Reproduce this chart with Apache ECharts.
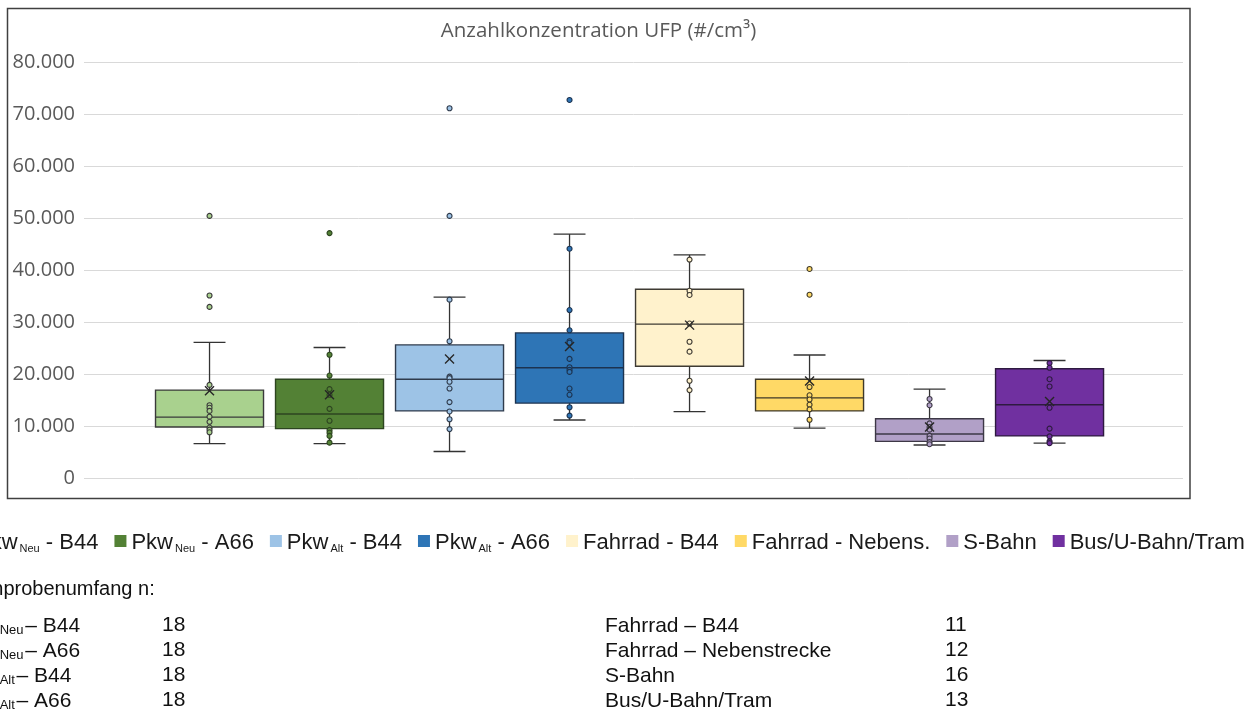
<!DOCTYPE html>
<html>
<head>
<meta charset="utf-8">
<script src="https://cdn.jsdelivr.net/npm/echarts@6/dist/echarts.min.js"></script>
<style>
  html, body { margin: 0; padding: 0; background: #fff; }
  #chart { width: 1259px; height: 718px; }
</style>
</head>
<body>
<div id="chart"></div>
<script>
// Groups (the part after "_" is written as a subscript)
const categories = ['Pkw_Neu - B44', 'Pkw_Neu - A66', 'Pkw_Alt - B44', 'Pkw_Alt - A66',
  'Fahrrad - B44', 'Fahrrad - Nebens.', 'S-Bahn', 'Bus/U-Bahn/Tram'];

// Box statistics per group in #/cm³
const boxMin    = [6600, 6600, 5100, 11150, 12750, 9600, 6350, 6700];
const boxQ1     = [9800, 9500, 12900, 14400, 21500, 12900, 7050, 8100];
const boxMedian = [11700, 12300, 19000, 21200, 29600, 15400, 8450, 14100];
const boxQ3     = [16900, 19000, 25600, 27900, 36300, 19000, 11400, 21000];
const boxMax    = [26100, 25100, 34800, 46900, 42900, 23650, 17100, 22600];
const means     = [16800, 16000, 22900, 25300, 29400, 18650, 9800, 14700];

// Individual measurements shown as dots (incl. outliers)
const points1 = [50400, 35100, 32900, 17900, 14000, 13500, 12900, 11800, 10800, 9700, 9300, 8800];
const points2 = [47100, 23700, 19700, 17100, 16000, 13300, 11000, 9200, 8700, 8100, 6800];
const points3 = [71100, 50400, 34300, 26300, 19500, 19200, 18500, 17200, 14600, 12800, 11300, 9400];
const points4 = [72700, 44100, 32300, 28400, 26300, 26000, 22900, 21300, 20800, 20400, 17200, 16000, 13600, 12000];
const points5 = [42000, 36000, 35200, 29700, 26200, 24300, 18700, 16900];
const points6 = [40200, 35250, 17500, 15900, 15100, 14100, 13200, 11200];
const points7 = [15200, 14000, 10500, 9800, 9300, 8100, 7600, 6900, 6500];
const points8 = [22100, 21200, 19000, 17600, 13500, 9500, 8000, 7050, 6700];
const points = [points1, points2, points3, points4, points5, points6, points7, points8];

// Value axis
const yMin = 0, yMax = 80000, yStep = 10000;

// Sample sizes listed below the chart
const sampleLabels = ['Pkw_Neu – B44', 'Pkw_Neu – A66', 'Pkw_Alt – B44', 'Pkw_Alt – A66',
  'Fahrrad – B44', 'Fahrrad – Nebenstrecke', 'S-Bahn', 'Bus/U-Bahn/Tram'];
const sampleSizes = [18, 18, 18, 18, 11, 12, 16, 13];

const fillColors = ['#a9d18e', '#538135', '#9dc3e6', '#2e75b6', '#fff2cc', '#ffd966', '#b1a0c7', '#7030a0'];
const edgeColors = ['#3a3a3a', '#2d4520', '#2f3b4c', '#1c3350', '#3f3b33', '#3f3928', '#3d3846', '#2e1a40'];

const uiFont = '"Open Sans", "DejaVu Sans", sans-serif';
const textFont = '"Liberation Sans", Arial, sans-serif';

function fmtThousands(v) {
  const s = String(Math.round(v));
  return s.replace(/\B(?=(\d{3})+(?!\d))/g, '.');
}

// "Pkw_Neu - B44" -> rich text with "Neu" as subscript; the space after the
// subscript is set in style `gap` so it can be narrowed.
function richName(name, main, sub, gap) {
  const m = name.match(/^([^_]+)_(\w+)(\s*)(.*)$/);
  if (!m) return '{' + main + '|' + name + '}';
  let s = '{' + main + '|' + m[1] + '}{' + sub + '|' + m[2] + '}';
  if (m[3]) s += '{' + gap + '|' + m[3] + '}';
  return s + '{' + main + '|' + m[4] + '}';
}

const BOX_HALF = 0.45;   // half box width in category units
const CAP_HALF = 0.133;  // half whisker cap width

const series = [];
categories.forEach((name, i) => {
  series.push({
    type: 'custom',
    name: name,
    z: 2,
    silent: true,
    itemStyle: { color: fillColors[i] },
    data: [[i, boxMin[i], boxQ1[i], boxMedian[i], boxQ3[i], boxMax[i]]],
    encode: { x: 0, y: [1, 2, 3, 4, 5] },
    renderItem: function (params, api) {
      const x = api.value(0);
      const pMin = api.coord([x, api.value(1)]);
      const pQ1 = api.coord([x, api.value(2)]);
      const pMed = api.coord([x, api.value(3)]);
      const pQ3 = api.coord([x, api.value(4)]);
      const pMax = api.coord([x, api.value(5)]);
      const half = api.size([BOX_HALF, 0])[0];
      const cap = api.size([CAP_HALF, 0])[0];
      const cx = pMed[0];
      const line = { stroke: '#333333', lineWidth: 1.3 };
      return {
        type: 'group',
        children: [
          { type: 'line', shape: { x1: cx, y1: pMax[1], x2: cx, y2: pQ3[1] }, style: line },
          { type: 'line', shape: { x1: cx, y1: pQ1[1], x2: cx, y2: pMin[1] }, style: line },
          { type: 'line', shape: { x1: cx - cap, y1: pMax[1], x2: cx + cap, y2: pMax[1] }, style: line },
          { type: 'line', shape: { x1: cx - cap, y1: pMin[1], x2: cx + cap, y2: pMin[1] }, style: line },
          { type: 'rect', shape: { x: cx - half, y: pQ3[1], width: half * 2, height: pQ1[1] - pQ3[1] },
            style: { fill: fillColors[i], stroke: edgeColors[i], lineWidth: 1.4 } },
          { type: 'line', shape: { x1: cx - half, y1: pMed[1], x2: cx + half, y2: pMed[1] },
            style: { stroke: edgeColors[i], lineWidth: 1.4 } }
        ]
      };
    }
  });
  series.push({
    type: 'scatter',
    name: name,
    z: 3,
    silent: true,
    symbol: 'circle',
    symbolSize: 5,
    itemStyle: { color: fillColors[i], borderColor: edgeColors[i], borderWidth: 1.1, opacity: 1 },
    data: points[i].map(v => [i, v])
  });
});

// Mean markers (x)
series.push({
  type: 'custom',
  name: 'Mittelwert',
  z: 4,
  silent: true,
  data: means.map((m, i) => [i, m]),
  encode: { x: 0, y: 1 },
  renderItem: function (params, api) {
    const p = api.coord([api.value(0), api.value(1)]);
    const r = 4.5;
    const st = { stroke: '#262626', lineWidth: 1.4 };
    return {
      type: 'group',
      children: [
        { type: 'line', shape: { x1: p[0] - r, y1: p[1] - r, x2: p[0] + r, y2: p[1] + r }, style: st },
        { type: 'line', shape: { x1: p[0] - r, y1: p[1] + r, x2: p[0] + r, y2: p[1] - r }, style: st }
      ]
    };
  }
});

// Frame, title and the sample-size block
const graphicEls = [
  { type: 'rect', z: -1, shape: { x: 7.5, y: 8.5, width: 1182.5, height: 490 },
    style: { fill: 'none', stroke: '#404040', lineWidth: 1.5 } },
  { type: 'text', x: 598.5, y: 31,
    style: { text: 'Anzahlkonzentration UFP (#/cm³)', fill: '#595959', fontSize: 20.5,
             fontFamily: uiFont, align: 'center', verticalAlign: 'middle' } },
  { type: 'text', x: -41, y: 589,
    style: { text: 'Stichprobenumfang n:', fill: '#111', fontSize: 20, fontFamily: textFont,
             verticalAlign: 'middle' } }
];
const blockRich = {
  m: { fontSize: 21, fontFamily: textFont, fill: '#111', color: '#111', lineHeight: 24, verticalAlign: 'bottom' },
  s: { fontSize: 13, fontFamily: textFont, fill: '#111', color: '#111', lineHeight: 24, verticalAlign: 'bottom', padding: [0, 0, 0, 1] },
  g: { fontSize: 6, fontFamily: textFont, lineHeight: 24, verticalAlign: 'bottom' }
};
sampleLabels.forEach((lab, i) => {
  const col = i < 4 ? 0 : 1;
  const y = 625 + (i % 4) * 25;
  graphicEls.push({
    type: 'text', x: col ? 605 : -41, y: y,
    style: { text: richName(lab, 'm', 's', 'g'), rich: blockRich, verticalAlign: 'middle' }
  });
  graphicEls.push({
    type: 'text', x: col ? 945 : 162, y: y,
    style: { text: String(sampleSizes[i]), fill: '#111', fontSize: 21, fontFamily: textFont,
             verticalAlign: 'middle' }
  });
});

const chart = echarts.init(document.getElementById('chart'), null, { renderer: 'canvas' });
chart.setOption({
  animation: false,
  backgroundColor: '#ffffff',
  grid: { left: 84, top: 62, width: 1099, height: 416, outerBoundsMode: 'none', containLabel: false },
  xAxis: { type: 'value', min: -1.046, max: 8.112, show: false },
  yAxis: {
    type: 'value', min: yMin, max: yMax, interval: yStep,
    axisLine: { show: false }, axisTick: { show: false },
    splitLine: { lineStyle: { color: '#d9d9d9', width: 1 } },
    axisLabel: { margin: 9, color: '#595959', fontSize: 20, fontFamily: uiFont, padding: [8, 0, 0, 0],
                 formatter: fmtThousands }
  },
  legend: {
    data: categories.map((c, i) => ({ name: c, itemStyle: { color: fillColors[i], borderWidth: 0 } })),
    left: -46, top: 527, width: 1600, orient: 'horizontal',
    itemWidth: 12, itemHeight: 12, itemGap: 16, icon: 'rect',
    selectedMode: false,
    formatter: name => richName(name, 't', 's', 't'),
    textStyle: {
      color: '#1a1a1a', fontFamily: textFont, fontSize: 22,
      rich: {
        t: { fontSize: 22, fontFamily: textFont, color: '#1a1a1a', lineHeight: 26, verticalAlign: 'bottom' },
        s: { fontSize: 11, fontFamily: textFont, color: '#1a1a1a', lineHeight: 26, verticalAlign: 'bottom', padding: [0, 0, 0, 2] }
      }
    }
  },
  graphic: { elements: graphicEls },
  series: series
});
</script>
</body>
</html>
